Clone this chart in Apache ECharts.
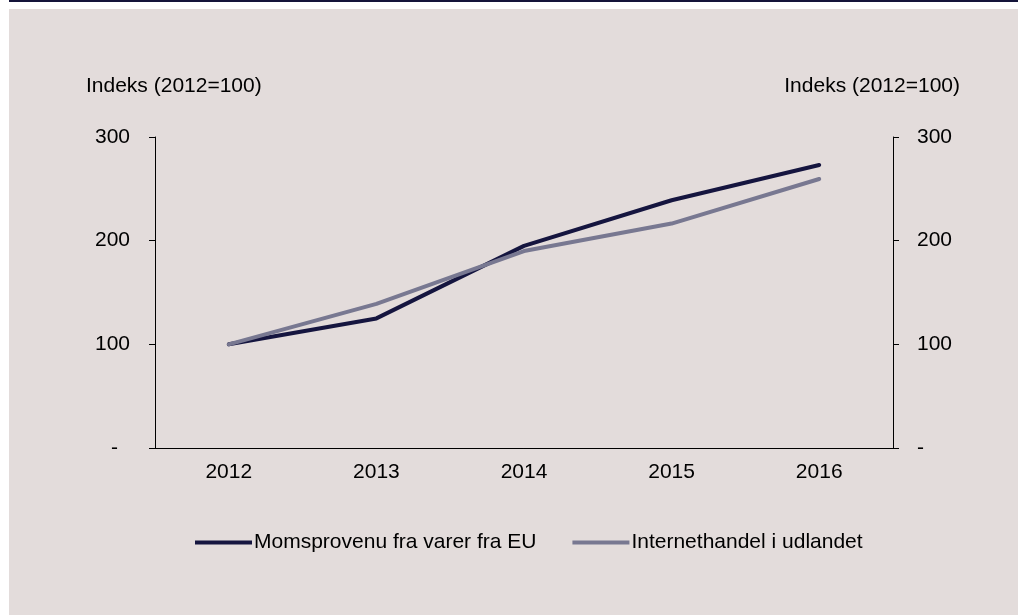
<!DOCTYPE html>
<html>
<head>
<meta charset="utf-8">
<script src="https://cdn.jsdelivr.net/npm/echarts@6/dist/echarts.min.js"></script>
<style>
  html, body { margin: 0; padding: 0; background: #ffffff; }
  #chart { width: 1018px; height: 615px; }
</style>
</head>
<body>
<div id="chart"></div>
<script>
const years = ['2012', '2013', '2014', '2015', '2016']
const momsprovenu = [100, 125, 195, 239, 273]
const internethandel = [100, 139, 190, 216.5, 259.5]
const axisTitle = 'Indeks (2012=100)'

const font = 'Liberation Sans, Arial, sans-serif'
const dark = '#15153f'
const grey = '#787891'

const chart = echarts.init(document.getElementById('chart'))

const yAxisBase = {
  type: 'value',
  min: 0,
  max: 300,
  interval: 100,
  splitLine: { show: false },
  axisLine: { show: true, lineStyle: { color: '#000', width: 1 } },
  axisTick: { show: true, length: 6, lineStyle: { color: '#000' } }
}

chart.setOption({
  backgroundColor: '#ffffff',
  animation: false,
  graphic: [
    { type: 'rect', shape: { x: 9, y: 9, width: 1009, height: 606 }, style: { fill: '#e3dcdb' }, z: -10 },
    { type: 'rect', shape: { x: 9, y: 0, width: 1009, height: 2 }, style: { fill: '#14143a' }, z: -10 },
    { type: 'text', left: 86, top: 76, style: { text: axisTitle, font: '21px ' + font, fill: '#000' } },
    { type: 'text', right: 58, top: 76, style: { text: axisTitle, font: '21px ' + font, fill: '#000' } }
  ],
  grid: { left: 155, right: 125, top: 137, bottom: 167 },
  legend: {
    left: 190,
    top: 527,
    itemWidth: 57,
    itemHeight: 4,
    itemGap: 36,
    icon: 'rect',
    textStyle: { fontFamily: font, fontSize: 21, color: '#000', padding: [0, 0, 0, -3] },
    data: ['Momsprovenu fra varer fra EU', 'Internethandel i udlandet']
  },
  xAxis: {
    type: 'category',
    data: years,
    axisLine: { lineStyle: { color: '#000', width: 1 } },
    axisTick: { show: false },
    axisLabel: { fontFamily: font, fontSize: 21, color: '#000', margin: 14 }
  },
  yAxis: [
    Object.assign({}, yAxisBase, {
      position: 'left',
      axisLabel: {
        margin: 25,
        fontFamily: font, fontSize: 21, color: '#000',
        formatter: v => v === 0 ? '{d|-}' : String(v),
        rich: { d: { fontFamily: font, fontSize: 21, color: '#000', padding: [0, 12, 0, 0] } }
      }
    }),
    Object.assign({}, yAxisBase, {
      position: 'right',
      axisLabel: {
        margin: 24,
        fontFamily: font, fontSize: 21, color: '#000',
        formatter: v => v === 0 ? '-' : String(v)
      }
    })
  ],
  series: [
    {
      name: 'Momsprovenu fra varer fra EU',
      type: 'line',
      data: momsprovenu,
      symbol: 'none',
      lineStyle: { color: dark, width: 4, cap: 'round' },
      itemStyle: { color: dark }
    },
    {
      name: 'Internethandel i udlandet',
      type: 'line',
      data: internethandel,
      symbol: 'none',
      lineStyle: { color: grey, width: 4, cap: 'round' },
      itemStyle: { color: grey }
    }
  ]
})
</script>
</body>
</html>
